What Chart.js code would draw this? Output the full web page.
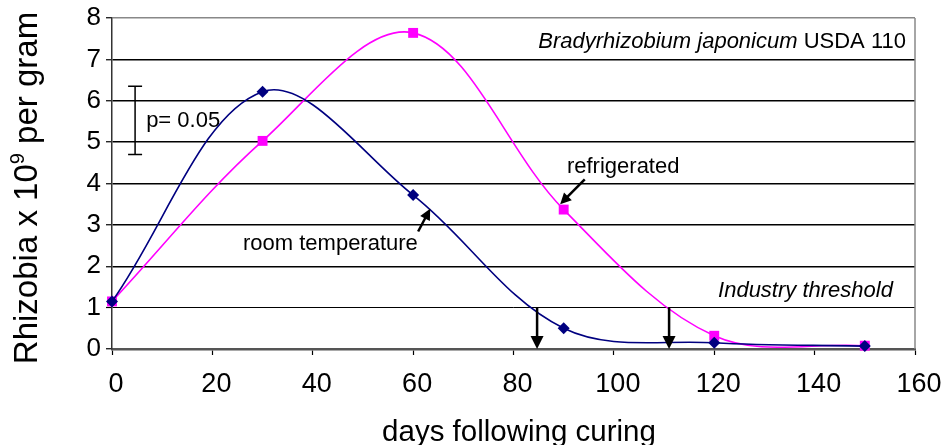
<!DOCTYPE html>
<html>
<head>
<meta charset="utf-8">
<script src="https://cdn.jsdelivr.net/npm/chart.js@4.4.1/dist/chart.umd.min.js"></script>
<style>
  body { margin: 0; background: #fff; }
  #wrap { width: 944px; height: 445px; position: relative; }
</style>
</head>
<body>
<div id="wrap"><canvas id="rhizobiaChart"></canvas></div>
<script>
// sampling days and counts (x 10^9 per gram)
const days = [0, 30, 60, 90, 120, 150];
const roomTemperature = [1.15, 6.22, 3.72, 0.5, 0.15, 0.07];
const refrigerated = [1.15, 5.03, 7.64, 3.37, 0.32, 0.08];
const xTicks = [0, 20, 40, 60, 80, 100, 120, 140, 160];
const yTicks = [0, 1, 2, 3, 4, 5, 6, 7, 8];

// days where each storage condition falls below the industry threshold
const thresholdDays = [84.7, 111.0];
const thresholdLevel = 1;
const pValueBar = [4.7, 6.35];

const FONT = "'Liberation Sans', Arial, sans-serif";

function toPoints(values) {
  return days.map((d, i) => ({ x: d, y: values[i] }));
}

function arrow(ctx, x1, y1, x2, y2, width, head) {
  const ang = Math.atan2(y2 - y1, x2 - x1);
  ctx.lineWidth = width;
  ctx.beginPath();
  ctx.moveTo(x1, y1);
  ctx.lineTo(x2 - Math.cos(ang) * head * 0.8, y2 - Math.sin(ang) * head * 0.8);
  ctx.stroke();
  ctx.beginPath();
  ctx.moveTo(x2, y2);
  ctx.lineTo(x2 - head * Math.cos(ang) + head * 0.5 * Math.sin(ang),
             y2 - head * Math.sin(ang) - head * 0.5 * Math.cos(ang));
  ctx.lineTo(x2 - head * Math.cos(ang) - head * 0.5 * Math.sin(ang),
             y2 - head * Math.sin(ang) + head * 0.5 * Math.cos(ang));
  ctx.closePath();
  ctx.fill();
}

// labels, arrows, frame and axis titles drawn on top of the chart
const notesPlugin = {
  id: "notes",
  afterDatasetsDraw(chart) {
    const ctx = chart.ctx;
    const xs = chart.scales.x;
    const ys = chart.scales.y;
    const area = chart.chartArea;
    const px = (v) => xs.getPixelForValue(v);
    const py = (v) => ys.getPixelForValue(v);
    ctx.save();

    // right frame edge
    ctx.strokeStyle = "#888";
    ctx.lineWidth = 1.5;
    ctx.beginPath();
    ctx.moveTo(area.right, area.top);
    ctx.lineTo(area.right, area.bottom);
    ctx.stroke();

    ctx.strokeStyle = "#000";
    ctx.fillStyle = "#000";

    // p = 0.05 error bar
    const bx = px(4.6);
    ctx.lineWidth = 1.5;
    ctx.beginPath();
    ctx.moveTo(bx, py(pValueBar[0]));
    ctx.lineTo(bx, py(pValueBar[1]));
    ctx.moveTo(bx - 7, py(pValueBar[0]));
    ctx.lineTo(bx + 7, py(pValueBar[0]));
    ctx.moveTo(bx - 7, py(pValueBar[1]));
    ctx.lineTo(bx + 7, py(pValueBar[1]));
    ctx.stroke();

    ctx.font = "22px " + FONT;
    ctx.textBaseline = "middle";
    ctx.textAlign = "left";
    ctx.fillText("p= 0.05", px(6.8), py(5.52));
    ctx.fillText("room temperature", px(26.1), py(2.53));
    ctx.fillText("refrigerated", px(90.65), py(4.39));

    ctx.textAlign = "right";
    ctx.font = "italic 22px " + FONT;
    ctx.fillText("Industry threshold", px(155.6), py(1.41));

    // strain name: italic species, plain strain code
    const right = px(158.2);
    ctx.font = "22px " + FONT;
    const strainW = ctx.measureText(" USDA 110").width;
    ctx.fillText(" USDA 110", right, py(7.43));
    ctx.font = "italic 22px " + FONT;
    ctx.fillText("Bradyrhizobium japonicum", right - strainW, py(7.43));

    // pointer arrows
    arrow(ctx, px(61.0), py(2.84), px(63.4), py(3.39), 2.5, 11);
    arrow(ctx, px(94.2), py(4.1), px(89.3), py(3.5), 2.5, 11);
    thresholdDays.forEach((d) => {
      arrow(ctx, px(d), py(thresholdLevel), px(d), py(0), 2.5, 13);
    });

    // axis titles
    ctx.textAlign = "center";
    ctx.textBaseline = "alphabetic";
    ctx.font = "29.5px " + FONT;
    ctx.fillText("days following curing", 519, 441);

    ctx.translate(37, 188);
    ctx.rotate(-Math.PI / 2);
    ctx.textAlign = "left";
    ctx.font = "33px " + FONT;
    const partA = "Rhizobia x 10";
    const partB = " per gram";
    const wA = ctx.measureText(partA).width;
    const wB = ctx.measureText(partB).width;
    ctx.font = "20px " + FONT;
    const wSup = ctx.measureText("9").width;
    let x0 = -(wA + wSup + wB) / 2;
    ctx.font = "33px " + FONT;
    ctx.fillText(partA, x0, 0);
    ctx.font = "20px " + FONT;
    ctx.fillText("9", x0 + wA, -13);
    ctx.font = "33px " + FONT;
    ctx.fillText(partB, x0 + wA + wSup, 0);

    ctx.restore();
  },
};

const ctx = document.getElementById("rhizobiaChart").getContext("2d");
new Chart(ctx, {
  type: "line",
  data: {
    datasets: [
      {
        label: "room temperature",
        data: toPoints(roomTemperature),
        borderColor: "#000080",
        backgroundColor: "#000080",
        borderWidth: 1.6,
        tension: 0.35,
        pointStyle: "rectRot",
        pointRadius: 6,
        pointBorderWidth: 0,
        clip: false,
      },
      {
        label: "refrigerated",
        data: toPoints(refrigerated),
        borderColor: "#ff00ff",
        backgroundColor: "#ff00ff",
        borderWidth: 1.6,
        tension: 0.35,
        pointStyle: "rect",
        pointRadius: 7,
        pointBorderWidth: 0,
        clip: false,
      },
    ],
  },
  options: {
    responsive: true,
    maintainAspectRatio: false,
    animation: false,
    events: [],
    layout: { padding: { top: 14, right: 29, left: 0, bottom: 0 } },
    elements: { line: { capBezierPoints: false } },
    plugins: {
      legend: { display: false },
      tooltip: { enabled: false },
    },
    scales: {
      x: {
        type: "linear",
        min: 0,
        max: 160,
        afterBuildTicks: (scale) => {
          scale.ticks = xTicks.map((v) => ({ value: v }));
        },
        afterFit: (scale) => {
          scale.height = 96;
          // keep the plot edge fixed; the last label fits in the margin
          scale.paddingLeft = 0;
          scale.paddingRight = 0;
        },
        ticks: {
          color: "#000",
          padding: 13,
          labelOffset: 4,
          font: { family: FONT, size: 27, lineHeight: 1.2 },
        },
        grid: {
          drawOnChartArea: false,
          drawTicks: true,
          tickLength: 6,
          tickColor: "#000",
          tickWidth: 1.2,
        },
        border: { color: "#555", width: 2.5 },
      },
      y: {
        min: 0,
        max: 8,
        afterBuildTicks: (scale) => {
          scale.ticks = yTicks.map((v) => ({ value: v }));
        },
        afterFit: (scale) => {
          scale.width = 112;
        },
        ticks: {
          color: "#000",
          padding: 5,
          font: { family: FONT, size: 26, lineHeight: 1 },
        },
        grid: {
          color: (c) => (c.tick && c.tick.value === 8 ? "#888" : "#000"),
          lineWidth: (c) => (c.tick && c.tick.value === 1 ? 1 : 1.5),
          drawTicks: true,
          tickLength: 6,
          tickColor: "#000",
          tickWidth: 1.2,
        },
        border: { color: "#333", width: 1.5 },
      },
    },
  },
  plugins: [notesPlugin],
});
</script>
</body>
</html>
